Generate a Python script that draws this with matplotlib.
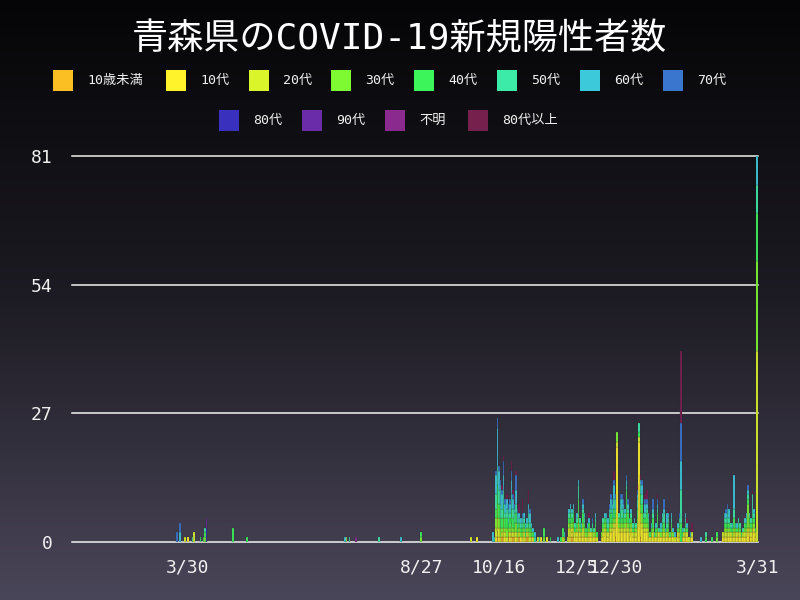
import numpy as np
import pandas as pd
import matplotlib
matplotlib.use("Agg")
import matplotlib.pyplot as plt
from matplotlib.patches import Rectangle
from matplotlib.colors import LinearSegmentedColormap

TITLE = "青森県のCOVID-19新規陽性者数"
START = "2020-01-16"
END = "2021-03-31"
BASE = "2020-10-10"   # dict keys below are day offsets from this date

categories = ["10歳未満", "10代", "20代", "30代", "40代", "50代",
              "60代", "70代", "80代", "90代", "不明", "80代以上"]
colors = ["#FBBF24", "#FFF42B", "#DAF52A", "#7EFA32", "#3CF55A", "#3CEBA8",
          "#3CC9DA", "#3A76CE", "#3A30BE", "#6A2CA8", "#8A2A8E", "#76204E"]

tick_dates = ["2020-03-30", "2020-08-27", "2020-10-16", "2020-12-05",
              "2020-12-30", "2021-03-31"]
tick_labels = ["3/30", "8/27", "10/16", "12/5", "12/30", "3/31"]
y_ticks = [0, 27, 54, 81]

u10 = {5: 1, 8: 1, 12: 1, 15: 1, 19: 1, 24: 1, 53: 1, 81: 1, 97: 1, 167: 1}
teens = {-194: 1, -8: 1, 4: 1, 5: 1, 6: 1, 9: 1, 10: 1, 13: 1, 14: 1, 16: 1,
         17: 1, 20: 1, 22: 1, 25: 1, 27: 1, 33: 1, 37: 1, 51: 1, 52: 1, 53: 1,
         54: 1, 55: 1, 56: 1, 57: 2, 58: 1, 59: 1, 60: 1, 61: 1, 62: 1, 64: 1,
         65: 1, 66: 1, 67: 1, 68: 1, 72: 1, 73: 1, 74: 2, 75: 1, 76: 1, 77: 2,
         78: 2, 79: 2, 80: 3, 81: 2, 82: 20, 83: 2, 84: 2, 85: 2, 86: 2, 87: 2,
         88: 2, 89: 2, 90: 1, 91: 2, 92: 1, 93: 1, 94: 1, 95: 3, 96: 21, 97: 3,
         98: 3, 99: 2, 100: 2, 101: 2, 102: 1, 103: 1, 104: 1, 105: 1, 106: 1,
         107: 1, 108: 1, 109: 1, 110: 1, 111: 1, 112: 1, 113: 1, 114: 1, 115: 1,
         116: 1, 117: 1, 118: 1, 120: 1, 121: 1, 122: 1, 124: 1, 125: 1, 126: 1,
         127: 1, 129: 1, 130: 1, 150: 1, 151: 1, 152: 1, 153: 1, 154: 1, 155: 1,
         156: 1, 157: 1, 158: 1, 159: 1, 160: 1, 161: 1, 162: 1, 163: 1, 164: 1,
         165: 1, 166: 2, 167: 1, 168: 1, 169: 2, 170: 2, 171: 1}
twenties = {-196: 1, -190: 2, -92: 1, -12: 1, 4: 2, 5: 3, 6: 2, 7: 1, 8: 1,
            9: 2, 10: 1, 11: 1, 12: 1, 13: 1, 14: 1, 15: 1, 16: 1, 17: 1, 18: 1,
            19: 1, 21: 1, 22: 1, 23: 1, 24: 1, 25: 1, 26: 1, 28: 1, 31: 1, 47: 1,
            50: 1, 51: 2, 52: 2, 53: 1, 54: 2, 55: 1, 56: 1, 57: 2, 58: 1, 59: 1,
            60: 2, 61: 1, 63: 1, 64: 1, 65: 1, 66: 1, 68: 1, 69: 1, 73: 1, 74: 1,
            75: 1, 76: 1, 77: 1, 78: 1, 79: 1, 80: 1, 81: 1, 82: 1, 83: 1, 84: 1,
            85: 1, 86: 1, 87: 1, 88: 2, 89: 1, 90: 1, 91: 1, 92: 1, 93: 1, 94: 1,
            95: 1, 96: 1, 97: 2, 98: 1, 99: 1, 100: 1, 101: 1, 102: 1, 104: 1,
            105: 1, 108: 1, 109: 1, 111: 1, 112: 1, 114: 1, 115: 1, 117: 1,
            119: 1, 121: 1, 122: 1, 125: 1, 126: 1, 127: 1, 128: 1, 130: 1,
            150: 1, 151: 1, 152: 1, 153: 1, 154: 1, 155: 1, 157: 1, 158: 1,
            159: 1, 160: 1, 161: 1, 163: 1, 164: 1, 165: 1, 166: 1, 167: 1,
            168: 1, 169: 1, 170: 1, 171: 1, 172: 40}
thirties = {-183: 1, -44: 1, 4: 2, 5: 3, 6: 2, 7: 2, 8: 1, 9: 2, 10: 1, 11: 2,
            12: 1, 13: 1, 14: 2, 15: 1, 16: 1, 17: 2, 18: 1, 19: 1, 20: 1, 21: 1,
            22: 1, 24: 1, 25: 1, 26: 1, 27: 1, 35: 1, 48: 1, 51: 1, 52: 1, 53: 1,
            54: 1, 56: 1, 57: 2, 58: 1, 60: 1, 61: 1, 62: 1, 63: 1, 64: 1, 67: 1,
            68: 1, 72: 1, 73: 1, 74: 1, 75: 1, 77: 1, 78: 1, 79: 1, 80: 1, 81: 1,
            82: 2, 83: 1, 84: 1, 85: 1, 86: 1, 87: 1, 88: 2, 89: 1, 90: 1, 91: 1,
            93: 1, 94: 1, 95: 1, 97: 2, 98: 2, 99: 1, 100: 1, 101: 1, 102: 1,
            105: 1, 107: 1, 108: 1, 110: 1, 111: 1, 112: 1, 113: 1, 115: 1,
            117: 1, 118: 1, 122: 1, 126: 1, 146: 1, 151: 1, 152: 1, 153: 1,
            154: 1, 156: 1, 157: 1, 158: 1, 160: 1, 164: 1, 165: 1, 166: 5,
            167: 1, 168: 1, 169: 1, 170: 1, 172: 19}
forties = {-186: 1, -184: 1, -183: 1, -165: 3, -156: 1, -44: 1, 4: 2, 5: 4,
           6: 3, 7: 2, 8: 2, 9: 3, 10: 2, 11: 2, 12: 1, 13: 2, 14: 3, 15: 2,
           16: 1, 17: 2, 18: 1, 19: 1, 20: 1, 21: 1, 22: 1, 23: 1, 25: 1, 26: 1,
           27: 1, 28: 1, 35: 2, 39: 1, 46: 1, 47: 2, 51: 1, 52: 2, 53: 1, 54: 2,
           55: 1, 56: 1, 57: 3, 58: 1, 59: 1, 60: 2, 61: 1, 62: 1, 63: 1, 64: 1,
           66: 1, 68: 1, 69: 1, 73: 1, 74: 1, 75: 1, 76: 1, 77: 1, 78: 2, 79: 1,
           80: 2, 81: 1, 83: 1, 84: 2, 85: 1, 86: 2, 87: 1, 88: 5, 89: 2, 90: 1,
           91: 1, 92: 1, 93: 1, 95: 2, 96: 1, 97: 2, 98: 2, 99: 1, 100: 1,
           101: 2, 102: 1, 103: 1, 104: 1, 105: 2, 107: 1, 108: 3, 111: 1,
           112: 1, 114: 1, 115: 1, 116: 1, 117: 1, 121: 1, 122: 1, 123: 4,
           124: 1, 126: 1, 127: 1, 139: 1, 143: 1, 146: 1, 151: 1, 152: 1,
           153: 1, 154: 1, 155: 1, 156: 1, 157: 2, 159: 1, 160: 1, 161: 1,
           162: 1, 164: 1, 165: 1, 166: 1, 167: 1, 168: 1, 169: 1, 170: 1,
           171: 1, 172: 10}
fifties = {-191: 1, -183: 1, -90: 1, -71: 1, 3: 1, 4: 3, 5: 4, 6: 3, 7: 3,
           8: 2, 9: 3, 10: 1, 11: 2, 12: 2, 13: 1, 14: 3, 15: 2, 16: 2, 17: 2,
           18: 1, 19: 1, 20: 1, 21: 1, 22: 1, 23: 1, 24: 1, 25: 2, 26: 1, 29: 1,
           32: 1, 51: 1, 52: 1, 53: 1, 54: 1, 55: 1, 56: 1, 57: 3, 58: 1, 60: 1,
           61: 1, 65: 1, 66: 1, 67: 1, 68: 1, 73: 1, 75: 1, 76: 1, 77: 1, 78: 1,
           79: 1, 80: 2, 81: 1, 83: 1, 84: 2, 85: 2, 86: 1, 87: 1, 88: 1, 89: 1,
           90: 1, 91: 1, 92: 1, 94: 1, 95: 2, 96: 2, 97: 2, 98: 2, 99: 1,
           100: 1, 101: 1, 102: 1, 105: 1, 106: 1, 108: 1, 109: 1, 110: 1,
           111: 1, 112: 2, 114: 1, 115: 1, 117: 1, 122: 1, 123: 7, 125: 1,
           126: 1, 139: 1, 151: 1, 152: 1, 153: 2, 154: 1, 155: 1, 157: 2,
           158: 1, 160: 1, 161: 1, 163: 1, 165: 1, 166: 1, 167: 1, 168: 1,
           169: 5, 170: 1, 172: 6}
sixties = {-199: 2, -93: 1, -57: 1, 2: 2, 4: 4, 5: 8, 6: 4, 7: 4, 8: 3, 9: 3,
           10: 2, 11: 2, 12: 1, 13: 2, 14: 3, 15: 2, 16: 1, 17: 3, 18: 2, 19: 1,
           20: 1, 21: 1, 22: 1, 23: 1, 24: 1, 25: 2, 26: 2, 27: 1, 28: 1, 29: 1,
           44: 1, 48: 1, 51: 1, 52: 1, 53: 1, 54: 1, 56: 1, 57: 1, 59: 1, 60: 1,
           61: 1, 63: 1, 64: 1, 68: 1, 74: 1, 75: 1, 76: 1, 77: 1, 78: 2, 79: 2,
           80: 3, 81: 2, 84: 1, 85: 2, 86: 1, 87: 1, 88: 1, 89: 1, 91: 1, 93: 1,
           95: 1, 97: 1, 98: 2, 100: 2, 101: 1, 102: 1, 104: 1, 105: 1, 107: 1,
           108: 1, 110: 1, 111: 1, 112: 1, 113: 1, 114: 2, 115: 1, 117: 1,
           118: 1, 119: 1, 121: 1, 123: 6, 124: 1, 126: 1, 127: 1, 129: 1,
           136: 1, 151: 1, 152: 1, 153: 1, 154: 2, 156: 1, 157: 7, 159: 1,
           164: 1, 165: 1, 166: 1, 170: 1, 172: 6}
seventies = {-201: 2, -199: 2, 4: 1, 5: 2, 6: 1, 7: 1, 8: 1, 9: 3, 10: 1,
             12: 1, 13: 1, 14: 2, 15: 1, 16: 1, 17: 3, 18: 1, 21: 1, 26: 1,
             60: 1, 66: 1, 77: 1, 78: 1, 79: 1, 80: 1, 81: 1, 84: 1, 85: 1,
             86: 1, 88: 1, 89: 1, 95: 1, 98: 1, 100: 1, 101: 1, 105: 2, 108: 1,
             112: 2, 122: 1, 123: 8, 152: 1, 153: 1, 166: 1}
eighties = {-182: 3}
nineties = {-182: 2}
unknown = {-86: 1}
over80 = {8: 1, 9: 1, 11: 1, 14: 2, 15: 1, 16: 2, 17: 1, 19: 2, 21: 3, 25: 3,
          64: 1, 80: 2, 95: 1, 97: 1, 100: 1, 101: 2, 108: 1, 115: 1, 123: 15,
          127: 1, 130: 2, 169: 1}

series = [u10, teens, twenties, thirties, forties, fifties, sixties,
          seventies, eighties, nineties, unknown, over80]

# ---------------------------------------------------------------------------
dates = pd.date_range(START, END, freq="D")
n = len(dates)
base_idx = (pd.Timestamp(BASE) - pd.Timestamp(START)).days
x = np.arange(n)

W, H = 800, 600
fig = plt.figure(figsize=(8, 6), dpi=100)

# background gradient
bg = fig.add_axes([0, 0, 1, 1], zorder=0)
grad = np.linspace(0, 1, 256).reshape(-1, 1)
cmap = LinearSegmentedColormap.from_list("bg", ["#050507", "#1d1b23", "#4a4659"])
bg.imshow(grad, aspect="auto", cmap=cmap, extent=[0, 1, 0, 1], origin="upper")
bg.axis("off")

ax = fig.add_axes([72 / W, 1 - 542 / H, 686 / W, 386 / H], zorder=1)
ax.patch.set_alpha(0)

bottom = np.zeros(n)
for cat, col, d in zip(categories, colors, series):
    vals = np.zeros(n)
    for k, v in d.items():
        vals[base_idx + k] += v
    m = vals > 0
    ax.bar(x[m], vals[m], bottom=bottom[m], width=1.0, color=col,
           edgecolor="#2a2833", linewidth=0.15, zorder=3)
    bottom += vals

ax.set_xlim(-0.5, n - 0.5)
ax.set_ylim(0, 81)
ax.set_yticks(y_ticks)
ax.set_yticklabels([str(t) for t in y_ticks])
tick_pos = [(pd.Timestamp(t) - pd.Timestamp(START)).days for t in tick_dates]
ax.set_xticks(tick_pos)
ax.set_xticklabels(tick_labels)
ax.yaxis.grid(True, color="#f2f2f2", linewidth=1.1, zorder=1)
ax.set_axisbelow(True)
for s in ax.spines.values():
    s.set_visible(False)
mono = ["DejaVu Sans Mono", "Noto Sans CJK JP"]
ax.tick_params(axis="y", length=0, pad=14, labelsize=13, labelcolor="#f0f0f0")
ax.tick_params(axis="x", length=0, pad=12, labelsize=13, labelcolor="#f0f0f0")
for lab in ax.get_xticklabels() + ax.get_yticklabels():
    lab.set_family(mono)
for gl in ax.get_ygridlines():
    gl.set_clip_on(False)

# title
fig.text(0.5, 1 - 39 / H, TITLE, ha="center", va="center", fontsize=26,
         color="white", family=mono)

# legend (two centred rows, drawn manually)
row1_x = [53, 166, 249, 331, 414, 497, 580, 663]
row2_x = [219, 302, 385, 468]
slots = [(xx, 70) for xx in row1_x] + [(xx, 110) for xx in row2_x]
for (lx, ly), cat, col in zip(slots, categories, colors):
    fig.add_artist(Rectangle((lx / W, 1 - (ly + 21) / H), 20 / W, 21 / H,
                             transform=fig.transFigure, facecolor=col,
                             edgecolor="none"))
    fig.text((lx + 34) / W, 1 - (ly + 10.5) / H, cat, ha="left", va="center",
             fontsize=9.5, color="#f0f0f0", family=mono)

fig.savefig("out.png", dpi=100)
